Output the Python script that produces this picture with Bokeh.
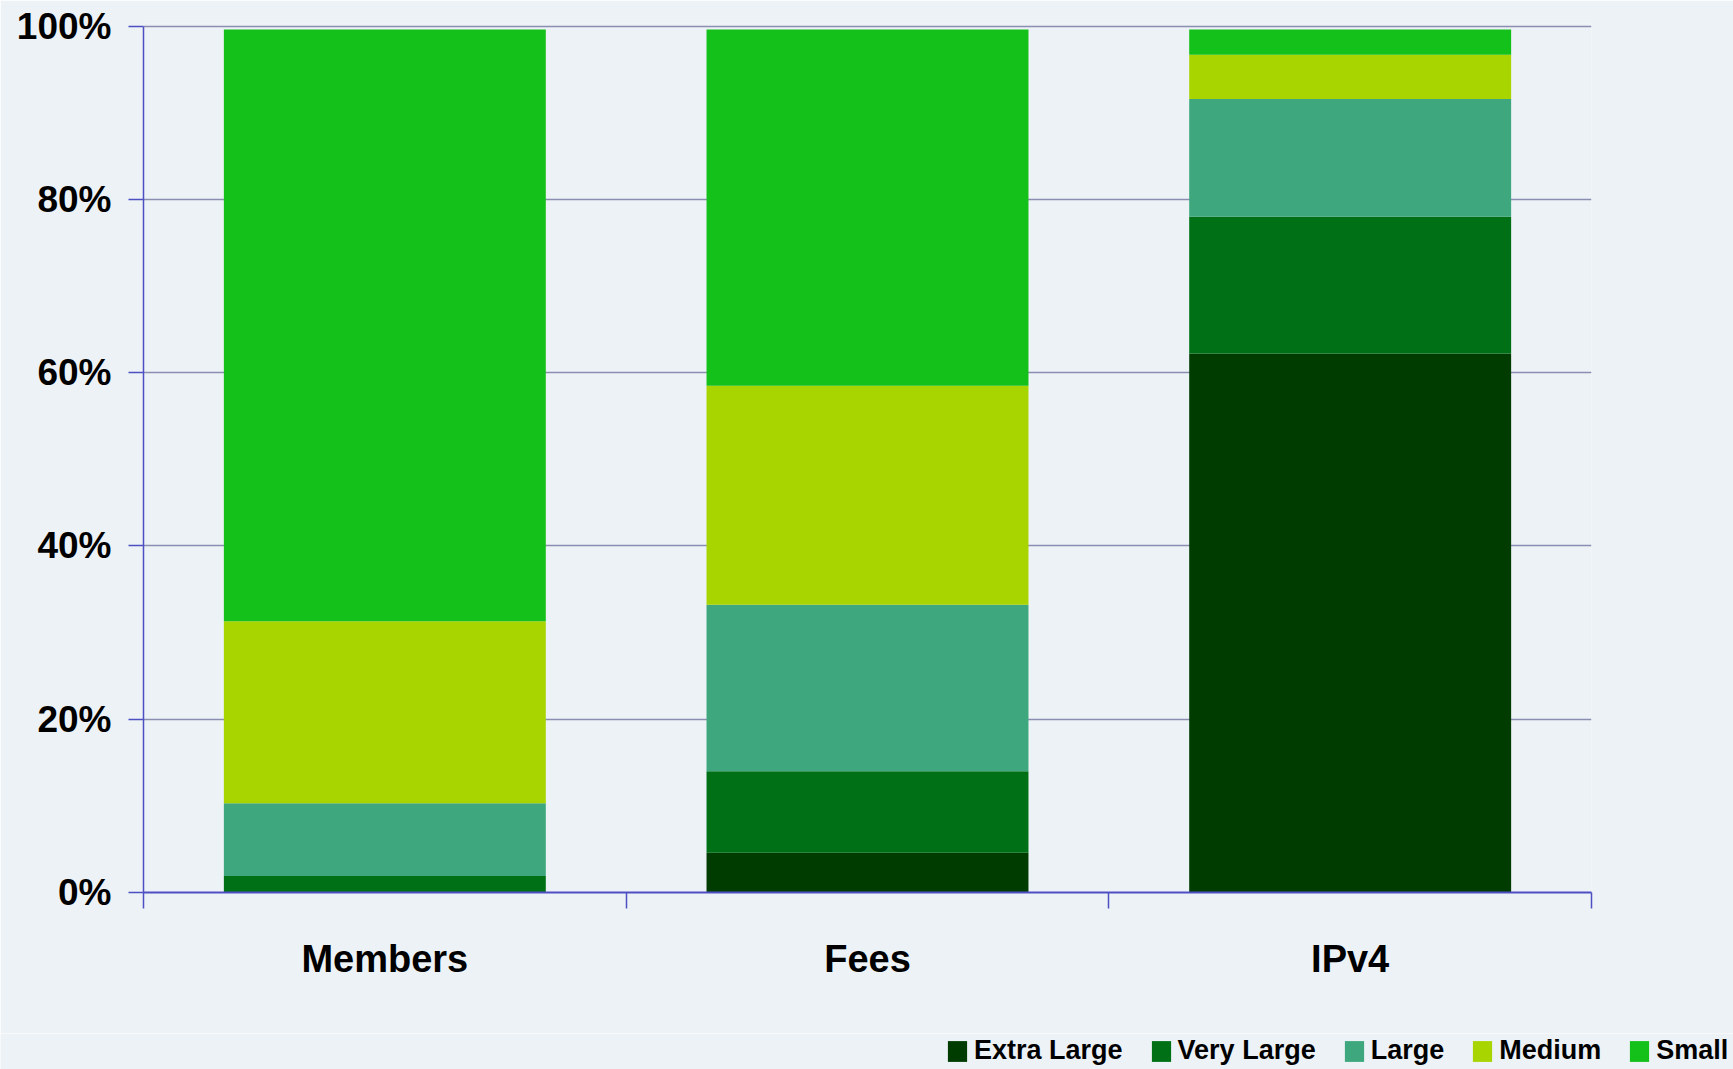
from bokeh.plotting import figure
from bokeh.models import (ColumnDataSource, Range1d, FixedTicker, Legend, LegendItem,
                          PrintfTickFormatter, CustomJSTickFormatter)
from bokeh.embed import file_html
from bokeh.resources import INLINE

categories = ["Members", "Fees", "IPv4"]
sizes = ["Extra Large", "Very Large", "Large", "Medium", "Small"]
extra_large = [0.0, 4.6, 62.2]
very_large = [1.9, 9.4, 15.8]
large = [8.4, 19.2, 13.6]
medium = [21.0, 25.3, 5.1]
small = [68.3, 41.1, 2.9]
y_ticks = [0, 20, 40, 60, 80, 100]

colors = ["#003c00", "#007016", "#3ea77d", "#a8d400", "#14c01a"]
keys = ["xl", "vl", "l", "m", "s"]

FONT = "Liberation Sans"
BG = "#edf2f6"
AXIS = "#4f4fc4"
GRID = "#8a8fb2"

xpos = [i + 0.5 for i in range(len(categories))]
src = ColumnDataSource(dict(x=xpos, xl=extra_large, vl=very_large, l=large,
                            m=medium, s=small))

W = 1733
LEG_H = 36

p = figure(width=W, height=1069 - LEG_H, x_range=Range1d(0, len(categories)),
           y_range=Range1d(0, 100.3), output_backend="svg", toolbar_location=None,
           min_border_left=143, min_border_right=142, min_border_top=23,
           min_border_bottom=1069 - LEG_H - 892)
p.background_fill_color = BG
p.border_fill_color = BG
p.outline_line_color = None

renderers = p.vbar_stack(keys, x="x", width=0.667, fill_color=colors,
                         line_color=None, source=src)

# x axis: boundary ticks as minor ticks, category names at centres
xa = p.xaxis[0]
xa.ticker = FixedTicker(ticks=xpos, minor_ticks=list(range(len(categories) + 1)))
xa.formatter = CustomJSTickFormatter(args=dict(names=categories),
                                     code="return names[Math.floor(tick)]")
xa.major_tick_in = 0
xa.major_tick_out = 0
xa.minor_tick_in = 0
xa.minor_tick_out = 16
xa.minor_tick_line_color = AXIS
xa.minor_tick_line_width = 1.5
xa.axis_line_color = AXIS
xa.axis_line_width = 2
xa.major_label_standoff = 29
xa.major_label_text_font = FONT
xa.major_label_text_font_style = "bold"
xa.major_label_text_font_size = "38px"
xa.major_label_text_color = "#000000"

ya = p.yaxis[0]
ya.ticker = FixedTicker(ticks=y_ticks, minor_ticks=[])
ya.formatter = PrintfTickFormatter(format="%d%%")
ya.bounds = (0, 100)
ya.major_tick_in = 0
ya.major_tick_out = 15
ya.major_tick_line_color = AXIS
ya.major_tick_line_width = 1.5
ya.axis_line_color = AXIS
ya.axis_line_width = 1.5
ya.major_label_standoff = 17
ya.major_label_text_font = FONT
ya.major_label_text_font_style = "bold"
ya.major_label_text_font_size = "37px"
ya.major_label_text_color = "#000000"

p.xgrid.visible = False
p.ygrid.ticker = FixedTicker(ticks=y_ticks)
p.ygrid.grid_line_color = GRID
p.ygrid.grid_line_width = 1.5

# legend strip below the chart (separate root, so its frame spans the full width)
lf = figure(width=W, height=LEG_H, x_range=Range1d(100, 101), y_range=Range1d(100, 101),
            output_backend="svg", toolbar_location=None, x_axis_type=None,
            y_axis_type=None, min_border=0)
lf.background_fill_color = BG
lf.border_fill_color = BG
lf.outline_line_color = None
lf.xgrid.visible = False
lf.ygrid.visible = False
leg_renderers = lf.vbar_stack(keys, x="x", width=0.667, fill_color=colors,
                              line_color=None, source=src)
items = [LegendItem(label=s, renderers=[r]) for s, r in zip(sizes, leg_renderers)]
legend = Legend(items=items, orientation="horizontal", location=(945, 3),
                glyph_width=24, glyph_height=26, label_standoff=5, spacing=26,
                padding=0, margin=0, border_line_color=None,
                background_fill_alpha=0, label_text_font=FONT,
                label_text_font_style="bold", label_text_font_size="27px",
                label_text_color="#000000")
lf.add_layout(legend, "center")

open("out.html", "w").write(file_html((p, lf), INLINE))
